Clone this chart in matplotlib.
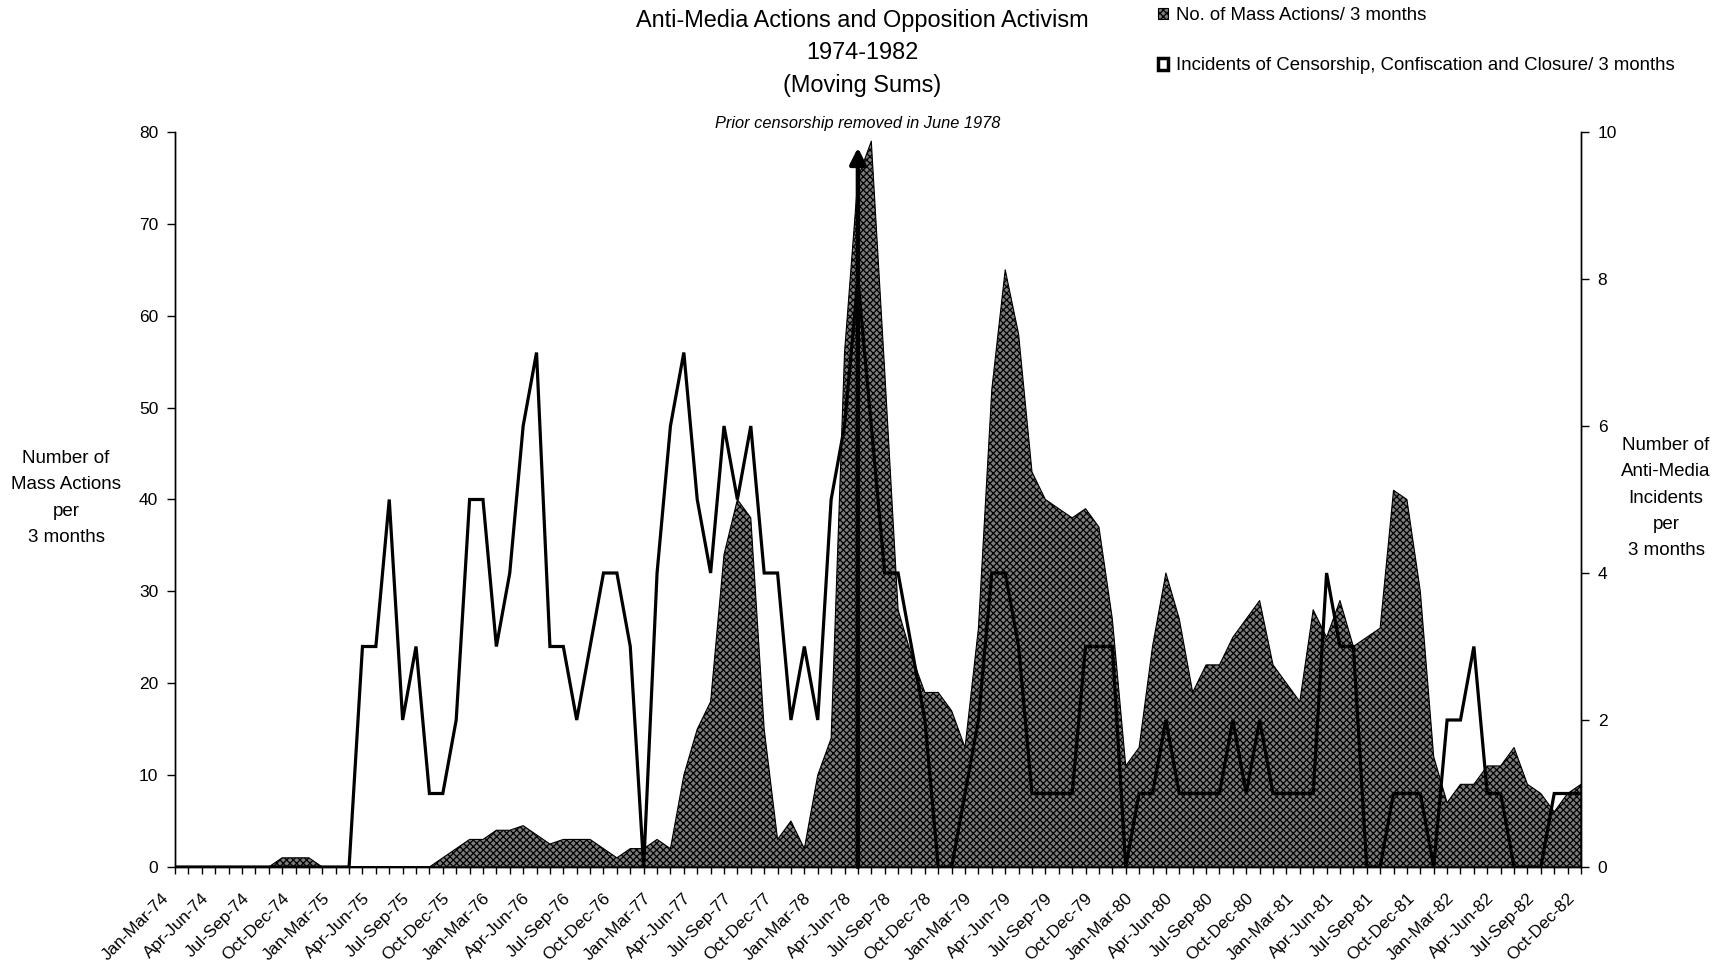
import matplotlib
matplotlib.use('Agg')
import matplotlib.pyplot as plt
from matplotlib.patches import Patch
from matplotlib.transforms import ScaledTranslation, blended_transform_factory

plt.rcParams['font.family'] = ['Liberation Sans', 'DejaVu Sans']
plt.rcParams['hatch.linewidth'] = 0.9

# three-month windows, Jan-Mar-74 .. Oct-Dec-82 (moving by one month)
month_abbr = ['Jan', 'Feb', 'Mar', 'Apr', 'May', 'Jun',
              'Jul', 'Aug', 'Sep', 'Oct', 'Nov', 'Dec']
years = ['74', '75', '76', '77', '78', '79', '80', '81', '82']
periods = []
for y in years:
    for m in range(12):
        periods.append('%s-%s-%s' % (month_abbr[m], month_abbr[(m + 2) % 12], y))
periods = periods[:106]

mass_actions = [
    0, 0, 0, 0, 0, 0, 0, 0, 1, 1, 1, 0, 0, 0, 0, 0, 0, 0, 0, 0,
    1, 2, 3, 3, 4, 4, 4.5, 3.5, 2.5, 3, 3, 3, 2, 1, 2, 2, 3, 2, 10, 15,
    18, 34, 40, 38, 15, 3, 5, 2, 10, 14, 56, 75, 79, 54, 28, 23, 19, 19, 17, 13,
    26, 52, 65, 58, 43, 40, 39, 38, 39, 37, 27, 11, 13, 24, 32, 27, 19, 22, 22, 25,
    27, 29, 22, 20, 18, 28, 25, 29, 24, 25, 26, 41, 40, 30, 12, 7, 9, 9, 11, 11,
    13, 9, 8, 6, 8, 9,
]

incidents = [
    0, 0, 0, 0, 0, 0, 0, 0, 0, 0, 0, 0, 0, 0, 3, 3, 5, 2, 3, 1,
    1, 2, 5, 5, 3, 4, 6, 7, 3, 3, 2, 3, 4, 4, 3, 0, 4, 6, 7, 5,
    4, 6, 5, 6, 4, 4, 2, 3, 2, 5, 6, 8, 6, 4, 4, 3, 2, 0, 0, 1,
    2, 4, 4, 3, 1, 1, 1, 1, 3, 3, 3, 0, 1, 1, 2, 1, 1, 1, 1, 2,
    1, 2, 1, 1, 1, 1, 4, 3, 3, 0, 0, 1, 1, 1, 0, 2, 2, 3, 1, 1,
    0, 0, 0, 1, 1, 1,
]

# June 1978 marker (Apr-Jun-78 window)
event_period = 'Apr-Jun-78'
event_label = 'Prior censorship removed in June 1978'

x = list(range(len(periods)))
ev = periods.index(event_period)

fig = plt.figure(figsize=(17.25, 9.66), dpi=100)
ax = fig.add_axes([175 / 1725, 1 - 867 / 966, 1406 / 1725, 735 / 966])
ax2 = ax.twinx()

area = ax.fill_between(x, 0, mass_actions, facecolor='#7c7c7c', edgecolor='black',
                       hatch='xxxxx', linewidth=0.8, zorder=2)
ax.annotate('', xy=(ev, 78.3), xytext=(ev, 0),
            arrowprops=dict(arrowstyle='-|>,head_width=0.4,head_length=0.8',
                            lw=3.2, color='black', shrinkA=0, shrinkB=0,
                            mutation_scale=12), zorder=6)
ax.text(ev, 1.011, event_label, transform=blended_transform_factory(ax.transData, ax.transAxes),
        ha='center', va='center', fontsize=11.8, style='italic')

ax2.plot(x, incidents, color='black', lw=2.3, solid_joinstyle='miter')

ax.set_xlim(0, len(x) - 1)
ax.set_ylim(0, 80)
ax2.set_ylim(0, 10)
ax.set_yticks(range(0, 81, 10))
ax2.set_yticks(range(0, 11, 2))

ax.set_xticks(x[::3])
ax.set_xticks(x, minor=True)
ax.set_xticklabels(periods[::3], rotation=45, ha='right', va='top',
                   rotation_mode='anchor', fontsize=12.3)
ax.tick_params(axis='x', which='both', direction='out', length=5, width=1, pad=12)
ax.tick_params(axis='y', direction='out', length=6, width=1, labelsize=12.5, pad=6)
ax2.tick_params(axis='y', direction='out', length=6, width=1, labelsize=12.5, pad=6)
off = ScaledTranslation(-14 / 100, 0, fig.dpi_scale_trans)
for lab in ax.get_xticklabels():
    lab.set_transform(lab.get_transform() + off)

for a in (ax, ax2):
    a.spines['top'].set_visible(False)
    for s in ('left', 'right', 'bottom'):
        a.spines[s].set_linewidth(1)

ax.set_ylabel('Number of\nMass Actions\nper\n3 months', rotation=0, fontsize=13.5,
              ha='center', va='center', linespacing=1.72)
ax.yaxis.set_label_coords(-0.0775, 0.502)
ax2.set_ylabel('Number of\nAnti-Media\nIncidents\nper\n3 months', rotation=0, fontsize=13.5,
               ha='center', va='center', linespacing=1.72)
ax2.yaxis.set_label_coords(1.0605, 0.502)

fig.text(862 / 1725, 1 - 9 / 966, 'Anti-Media Actions and Opposition Activism\n1974-1982\n(Moving Sums)',
         ha='center', va='top', fontsize=16.9, linespacing=1.52)

handles = [area, Patch(facecolor='white', edgecolor='black', linewidth=2.5)]
labels = ['No. of Mass Actions/ 3 months',
          'Incidents of Censorship, Confiscation and Closure/ 3 months']
fig.legend(handles, labels, loc='upper left', bbox_to_anchor=(1158 / 1725, 1 - 7 / 966),
           frameon=False, fontsize=13.4, handlelength=0.55, handleheight=0.55,
           handletextpad=0.4, labelspacing=1.8, borderpad=0, borderaxespad=0)

fig.savefig('out.png', dpi=100)
